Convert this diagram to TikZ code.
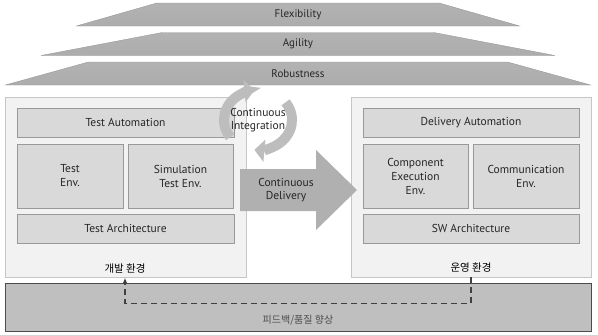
\documentclass[tikz,border=0pt]{standalone}
\usepackage{fontspec}
\setmainfont{PT Sans}
\newfontfamily\kofont{Noto Sans CJK KR}
\usepackage{tikz}
\usetikzlibrary{positioning, shapes.geometric, arrows.meta, calc}

\definecolor{envfill}{HTML}{F2F2F2}
\definecolor{partfill}{HTML}{D9D9D9}
\definecolor{barfill}{HTML}{BFBFBF}
\definecolor{txtgray}{HTML}{262626}

\begin{document}
\begin{tikzpicture}[x=1pt, y=-1pt,
                layer/.style={draw=gray!80, trapezium, trapezium angle=37, trapezium stretches=true, top color=gray!60, middle color=gray!22, bottom color=gray!65, minimum height=23pt, inner sep=0pt, text=txtgray, font=\fontsize{11}{12}\selectfont},
                envbox/.style={draw=gray!45, fill=envfill, rectangle, minimum height=180pt},
                part/.style={draw=gray!80, fill=partfill, rectangle, align=center, inner sep=1pt, text=txtgray, font=\fontsize{11.5}{14}\selectfont},
                envlabel/.style={text=black, font=\kofont\fontsize{10.5}{12}\selectfont},
                ciarc/.style={line width=10pt, draw=gray!52, -{Triangle[length=10pt, width=22pt]}},
                flowtext/.style={align=center, text=txtgray, font=\fontsize{11.5}{13.5}\selectfont},
                fb/.style={line width=1.2pt, dash pattern=on 6pt off 4pt, draw=black!75, -{Latex[length=6pt, width=5pt]}}
            ]

            \useasboundingbox (0,0) rectangle (598,335);

            % Pyramide
            \node[layer, minimum width=444pt] (flex) at (298,14.5) {Flexibility};
            \node[layer, minimum width=514pt] (agil) at (298,44) {Agility};
            \node[layer, minimum width=586pt] (robu) at (298,73.5) {Robustness};

            % Umgebungen
            \node[envbox, minimum width=241pt] (dev) at (125.5,187.5) {};
            \node[envbox, minimum width=240pt] (prod) at (471,187) {};
            \node[draw=black!70, fill=barfill, minimum width=586pt, minimum height=48pt] (bar) at (298,307) {};

            % Knoten
            \node[part, minimum width=217pt, minimum height=29pt] (testauto) at (125.5,122.5) {Test Automation};
            \node[part, minimum width=106pt, minimum height=64pt] (testenv) at (70,176) {Test\\Env.};
            \node[part, minimum width=105pt, minimum height=64pt] (simenv) at (180.5,176) {Simulation\\Test Env.};
            \node[part, minimum width=217pt, minimum height=29pt] (testarch) at (125.5,228.5) {Test Architecture};
            \node[envlabel] (devlab) at (125,269) {개발 환경};

            \node[part, minimum width=216pt, minimum height=29pt] (delauto) at (471,122.5) {Delivery Automation};
            \node[part, minimum width=105pt, minimum height=64pt] (compenv) at (415.5,176) {Component\\Execution\\Env.};
            \node[part, minimum width=106pt, minimum height=64pt] (commenv) at (526,176) {Communication\\Env.};
            \node[part, minimum width=216pt, minimum height=29pt] (swarch) at (471,228.5) {SW Architecture};
            \node[envlabel] (oplab) at (471,268) {운영 환경};

            \node[envlabel, text=black!70, font=\kofont\fontsize{10}{12}\selectfont] (fblab) at (298,320) {피드백/품질 향상};

            % Continuous Integration
            \coordinate (cimid) at (258,120);
            \draw[ciarc] (cimid) ++(215:34pt and 30pt) arc[start angle=215, end angle=96, x radius=34pt, y radius=30pt];
            \draw[ciarc] (cimid) ++(36:34pt and 30pt) arc[start angle=36, end angle=-96, x radius=34pt, y radius=30pt];
            \node[flowtext] (ci) at (cimid) {Continuous\\Integration};

            % Continuous Delivery
            \fill[gray!62] (240,169) -- (316,169) -- (316,150) -- (357,190) -- (316,230) -- (316,211) -- (240,211) -- cycle;
            \node[flowtext] (cd) at (286,190) {Continuous\\Delivery};

            % Rueckkopplung
            \draw[fb] (oplab |- prod.south) -- ++(0,26) -| (devlab |- dev.south);

        \end{tikzpicture}
\end{document}
